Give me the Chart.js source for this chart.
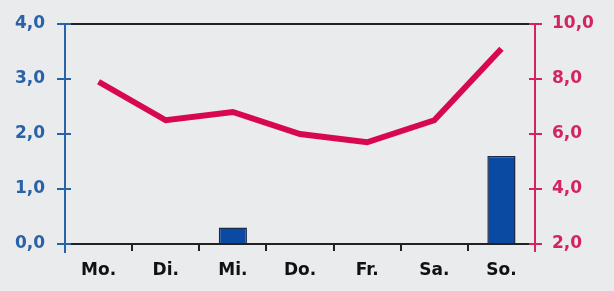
<!DOCTYPE html>
<html><head><meta charset="utf-8">
<script src="https://cdn.jsdelivr.net/npm/chart.js@4"></script>
<style>html,body{margin:0;padding:0;background:#e9ebed;}#w{width:614px;height:291px;}</style>
</head><body><div id="w"><canvas id="c" width="614" height="291"></canvas></div>
<script>
const days = ['Mo.','Di.','Mi.','Do.','Fr.','Sa.','So.'];
const barValues = [0, 0, 0.3, 0, 0, 0, 1.6];
const lineValues = [7.9, 6.5, 6.8, 6.0, 5.7, 6.5, 9.1];
const leftTicks = [0,1,2,3,4];
const rightTicks = [2,4,6,8,10];

const BLUE='#2a62a8', PINK='#d3245f', LINE='#d8084f';
const F = 'DejaVu Sans';
const fmt = v => v.toFixed(1).replace('.', ',');

const extra = {
  id:'extra',
  afterDatasetsDraw(ch){
    const {ctx, chartArea:a, scales} = ch;
    ctx.save();
    ctx.strokeStyle='#222'; ctx.lineWidth=2;
    ctx.beginPath(); ctx.moveTo(a.left, a.top); ctx.lineTo(a.right, a.top); ctx.stroke();
    ctx.strokeStyle=BLUE; ctx.lineWidth=2;
    ctx.beginPath(); ctx.moveTo(a.left, a.bottom); ctx.lineTo(a.left, a.bottom+9); ctx.stroke();
    leftTicks.forEach(v=>{const y=scales.y.getPixelForValue(v); ctx.beginPath(); ctx.moveTo(a.left, y); ctx.lineTo(a.left+6, y); ctx.stroke();});
    ctx.strokeStyle=PINK;
    ctx.beginPath(); ctx.moveTo(a.right, a.bottom); ctx.lineTo(a.right, a.bottom+8); ctx.stroke();
    rightTicks.forEach(v=>{const y=scales.y1.getPixelForValue(v); ctx.beginPath(); ctx.moveTo(a.right-6, y); ctx.lineTo(a.right, y); ctx.stroke();});
    ctx.restore();
  }
};

new Chart(document.getElementById('c'), {
  data:{
    labels: days,
    datasets:[
      {type:'line', data: lineValues, yAxisID:'y1', borderColor:LINE, borderWidth:6, pointRadius:0, tension:0, order:0, borderJoinStyle:'miter'},
      {type:'bar', data: barValues, yAxisID:'y', backgroundColor:'#0b4aa3', borderColor:'#1b2a48', borderWidth:1.5, barPercentage:0.42, categoryPercentage:1, order:1}
    ]
  },
  options:{
    responsive:false, animation:false,
    plugins:{legend:{display:false}, tooltip:{enabled:false}},
    layout:{padding:{top:24, right:0, bottom:0, left:0}},
    scales:{
      x:{
        offset:true,
        grid:{offset:true, drawOnChartArea:false, color:'#222', tickLength:7, lineWidth:2},
        border:{color:'#222', width:2},
        ticks:{color:'#111', font:{family:F, size:17, weight:'bold'}, padding:9},
        afterFit(s){ s.height = 47; }
      },
      y:{
        position:'left', min:0, max:4,
        afterBuildTicks(s){ s.ticks = leftTicks.map(v=>({value:v})); },
        grid:{drawOnChartArea:false, color:BLUE, tickLength:8, lineWidth:2},
        border:{color:BLUE, width:2},
        ticks:{color:BLUE, font:{family:F, size:17, weight:'bold'}, padding:12, callback:v=>fmt(v)},
        afterFit(s){ s.width = 65; }
      },
      y1:{
        position:'right', min:2, max:10,
        afterBuildTicks(s){ s.ticks = rightTicks.map(v=>({value:v})); },
        grid:{drawOnChartArea:false, color:PINK, tickLength:7, lineWidth:2},
        border:{color:PINK, width:2},
        ticks:{color:PINK, font:{family:F, size:17, weight:'bold'}, padding:10, callback:v=>fmt(v)},
        afterFit(s){ s.width = 79; }
      }
    }
  },
  plugins:[extra]
});
</script>
</body></html>
